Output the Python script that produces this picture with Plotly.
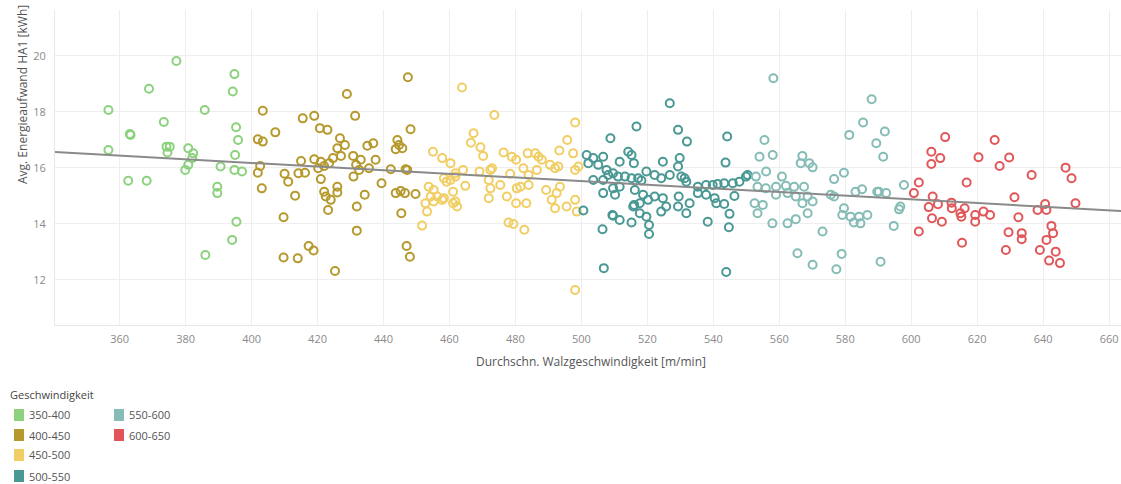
import plotly.graph_objects as go

# ---------------- data ----------------
categories = ["350-400", "400-450", "450-500", "500-550", "550-600", "600-650"]
colors = ["#8CD17D", "#B6992D", "#F1CE63", "#499894", "#86BCB6", "#E15759"]

x_350_400 = [377.2, 368.9, 394.8, 394.3, 356.6, 385.8, 373.4, 363.1, 363.3, 356.6, 395.3, 395.9,
             374.2, 375.2, 374.5, 380.8, 382.3, 382.0, 380.8, 379.9, 395.0, 390.6, 394.8, 397.1,
             362.6, 368.2, 389.6, 389.6, 395.4, 394.1, 386.0]
y_350_400 = [19.82, 18.83, 19.35, 18.73, 18.07, 18.07, 17.64, 17.21, 17.18, 16.64, 17.45, 17.00,
             16.76, 16.76, 16.55, 16.70, 16.52, 16.35, 16.11, 15.93, 16.46, 16.05, 15.93, 15.87,
             15.54, 15.54, 15.33, 15.10, 14.08, 13.43, 12.89]

x_400_450 = [403.4, 407.2, 401.9, 403.4, 402.6, 401.9, 403.1, 447.4, 428.9, 415.5, 419.0, 431.4,
             420.7, 423.0, 448.2, 426.8, 426.0, 428.3, 435.1, 436.9, 444.2, 443.7, 445.7, 444.7,
             424.7, 427.1, 430.8, 433.1, 437.6, 415.0, 419.0, 421.0, 422.0, 423.5, 420.2, 431.7,
             432.6, 435.6, 442.2, 446.7, 447.2, 410.0, 411.1, 414.2, 416.2, 421.0, 430.9, 439.4,
             413.2, 422.0, 422.5, 426.0, 426.0, 424.0, 423.2, 434.3, 443.7, 445.2, 446.5, 449.7,
             431.9, 445.4, 409.7, 431.9, 417.3, 418.8, 447.0, 448.0, 409.7, 414.0, 425.3]
y_400_450 = [18.04, 17.27, 17.02, 16.94, 16.07, 15.83, 15.27, 19.24, 18.64, 17.77, 17.86, 17.86,
             17.42, 17.36, 17.38, 17.06, 16.70, 16.82, 16.79, 16.88, 17.00, 16.67, 16.70, 16.82,
             16.35, 16.43, 16.43, 16.29, 16.29, 16.25, 16.31, 16.22, 16.07, 16.17, 15.99, 16.11,
             15.93, 15.99, 15.95, 15.95, 15.93, 15.79, 15.51, 15.81, 15.83, 15.60, 15.69, 15.45,
             15.01, 15.15, 14.98, 15.33, 15.12, 14.86, 14.50, 15.04, 15.10, 15.18, 15.10, 15.07,
             14.62, 14.38, 14.24, 13.76, 13.21, 13.05, 13.21, 12.83, 12.80, 12.77, 12.32]

x_450_500 = [463.8, 455.0, 457.8, 460.3, 464.1, 458.3, 460.3, 461.8, 464.8, 453.7, 455.2, 456.3,
             454.3, 452.7, 457.8, 461.1, 455.2, 461.1, 462.3, 453.2, 451.7, 473.6, 467.3, 466.5,
             469.4, 470.2, 476.4, 478.9, 480.2, 483.7, 486.0, 487.0, 488.0, 493.3, 495.7, 498.1,
             497.5, 490.5, 492.0, 493.0, 498.1, 499.1, 472.4, 472.9, 469.1, 461.8, 459.1, 478.4,
             482.4, 484.0, 486.5, 475.4, 471.9, 472.4, 458.3, 461.8, 471.9, 477.4, 480.4, 481.5,
             484.0, 480.2, 483.3, 489.3, 493.5, 492.5, 491.0, 492.0, 495.5, 498.1, 498.6, 477.9,
             479.4, 482.7, 498.1]
y_450_500 = [18.87, 16.58, 16.35, 16.17, 15.93, 15.63, 15.57, 15.69, 15.36, 15.33, 15.21, 14.98,
             14.98, 14.74, 14.86, 15.15, 14.80, 14.74, 14.62, 14.44, 13.94, 17.89, 17.24, 16.90,
             16.74, 16.43, 16.55, 16.40, 16.29, 16.52, 16.52, 16.40, 16.29, 16.62, 17.00, 17.62,
             16.52, 16.11, 15.99, 16.05, 15.93, 16.05, 15.93, 15.99, 15.87, 15.81, 15.51, 15.79,
             15.99, 15.75, 15.93, 15.39, 15.57, 15.27, 14.92, 14.80, 14.92, 14.98, 15.27, 15.33,
             15.39, 14.74, 14.74, 15.21, 15.33, 15.10, 14.86, 14.56, 14.62, 14.86, 14.44, 14.05,
             14.00, 13.79, 11.64]

x_500_550 = [516.7, 508.8, 501.6, 503.6, 506.6, 505.1, 502.1, 511.6, 514.2, 515.2, 515.9, 507.6,
             509.6, 511.1, 513.2, 503.6, 506.6, 515.2, 509.6, 511.6, 506.6, 516.0, 500.6, 509.4,
             511.6, 515.2, 506.4, 506.8, 526.8, 529.3, 532.0, 544.2, 524.7, 529.8, 529.3, 543.7,
             519.7, 522.2, 524.2, 526.8, 530.3, 531.3, 531.8, 517.2, 518.2, 535.3, 537.8, 539.8,
             541.3, 543.3, 545.9, 547.9, 549.9, 508.1, 510.2, 516.2, 518.7, 517.7, 515.7, 520.2,
             522.2, 524.7, 525.7, 524.2, 517.7, 519.7, 520.5, 509.6, 520.5, 529.5, 532.8, 531.8,
             529.3, 535.3, 537.8, 540.4, 540.9, 543.3, 546.4, 538.3, 544.9, 544.7, 543.9, 550.4]
y_500_550 = [17.48, 17.06, 16.46, 16.35, 16.40, 16.11, 16.17, 16.22, 16.58, 16.46, 16.17, 15.93,
             15.81, 15.69, 15.69, 15.57, 15.57, 15.63, 15.27, 15.33, 15.10, 14.68, 14.48, 14.32,
             14.14, 14.05, 13.81, 12.42, 18.31, 17.36, 16.94, 17.12, 16.22, 16.35, 16.05, 16.19,
             15.87, 15.75, 15.63, 15.75, 15.69, 15.63, 15.51, 15.63, 15.55, 15.33, 15.39, 15.39,
             15.43, 15.45, 15.45, 15.51, 15.69, 15.75, 15.04, 15.21, 15.04, 14.74, 14.62, 14.86,
             14.98, 14.92, 14.62, 14.44, 14.38, 14.26, 13.96, 14.29, 13.64, 14.98, 14.74, 14.38,
             14.62, 15.10, 15.04, 14.92, 14.74, 14.71, 15.00, 14.08, 14.36, 13.88, 12.28, 15.75]

x_550_600 = [558.2, 555.5, 558.0, 554.0, 556.0, 552.9, 560.8, 553.4, 555.9, 559.0, 562.0, 564.5,
             552.5, 555.0, 559.0, 562.5, 565.0, 553.4, 557.9, 562.5, 565.5, 588.0, 585.4, 581.2,
             592.0, 589.4, 591.5, 567.0, 566.5, 569.1, 570.1, 576.6, 579.6, 567.5, 568.6, 567.0,
             570.1, 568.6, 565.0, 575.6, 576.6, 573.1, 579.6, 579.1, 581.6, 582.6, 584.2, 584.6,
             586.7, 583.1, 585.1, 589.7, 590.2, 592.4, 596.7, 596.3, 594.7, 597.8, 570.1, 577.3,
             578.9, 590.7]
y_550_600 = [19.20, 17.00, 16.46, 16.40, 15.87, 15.69, 15.69, 15.33, 15.27, 15.33, 15.36, 15.33,
             14.74, 14.68, 15.04, 15.10, 14.98, 14.38, 14.02, 14.02, 12.95, 18.45, 17.62, 17.18,
             17.30, 16.88, 16.40, 16.43, 16.17, 16.17, 16.02, 15.60, 15.83, 15.33, 14.98, 14.74,
             14.80, 14.38, 14.17, 15.04, 14.98, 13.73, 14.56, 14.32, 14.26, 14.05, 14.26, 14.02,
             14.32, 15.15, 15.24, 15.15, 15.15, 15.10, 14.62, 14.52, 13.93, 15.39, 12.54, 12.38,
             12.93, 12.65]

x_600_650 = [610.3, 606.1, 608.8, 606.1, 620.4, 602.3, 600.8, 616.8, 606.5, 605.3, 608.1, 606.3,
             609.3, 612.2, 612.3, 614.9, 615.2, 616.2, 619.4, 619.4, 602.3, 615.4, 625.3, 626.8,
             629.7, 636.5, 646.8, 648.6, 631.3, 649.8, 640.6, 638.3, 641.0, 621.9, 623.9, 632.5,
             629.5, 633.5, 633.5, 628.7, 642.5, 643.0, 641.0, 639.0, 643.8, 641.8, 645.1]
y_600_650 = [17.10, 16.58, 16.35, 16.14, 16.38, 15.48, 15.10, 15.48, 14.98, 14.60, 14.70, 14.20,
             14.08, 14.76, 14.56, 14.38, 14.26, 14.56, 14.32, 14.08, 13.73, 13.33, 17.00, 16.07,
             16.37, 15.75, 16.01, 15.63, 14.95, 14.74, 14.71, 14.50, 14.50, 14.44, 14.32, 14.24,
             13.70, 13.67, 13.45, 13.07, 13.93, 13.67, 13.43, 13.07, 13.01, 12.69, 12.60]

trend_x = [340.0, 664.0]
trend_y = [16.57, 14.46]

x_ticks = [360, 380, 400, 420, 440, 460, 480, 500, 520, 540, 560, 580, 600, 620, 640, 660]
y_ticks = [12, 14, 16, 18, 20]

x_title = "Durchschn. Walzgeschwindigkeit [m/min]"
y_title = "Avg. Energieaufwand HA1 [kWh]"
legend_title = "Geschwindigkeit"

series_x = [x_350_400, x_400_450, x_450_500, x_500_550, x_550_600, x_600_650]
series_y = [y_350_400, y_400_450, y_450_500, y_500_550, y_550_600, y_600_650]

# ---------------- layout constants (pixels) ----------------
W, H = 1121, 484
PL, PR, PT, PB = 55, 1121, 10, 325
FONT = "Open Sans"


def fx(px):
    return (px - PL) / (PR - PL)


def fy(py):
    return (PB - py) / (PB - PT)


fig = go.Figure()

for name, xs, ys, col in zip(categories, series_x, series_y, colors):
    fig.add_trace(go.Scatter(
        x=xs, y=ys, mode="markers", name=name, showlegend=False,
        marker=dict(symbol="circle-open", size=8, color=col, line=dict(width=2, color=col)),
    ))

fig.add_trace(go.Scatter(
    x=trend_x, y=trend_y, mode="lines", showlegend=False,
    line=dict(color="#8a8a8a", width=2),
))

# ---------------- manual legend ----------------
shapes = []
annotations = []
annotations.append(dict(
    text=legend_title, x=fx(8), y=fy(394), xref="paper", yref="paper",
    xanchor="left", yanchor="middle", showarrow=False,
    font=dict(family=FONT, size=11, color="#444"),
))
row_y = [415, 435, 455, 476]
positions = [(0, 0), (0, 1), (0, 2), (0, 3), (1, 0), (1, 1)]
col_x = [14, 114]
for (c, r), name, col in zip(positions, categories, colors):
    sx = col_x[c]
    cy = row_y[r]
    shapes.append(dict(
        type="rect", xref="paper", yref="paper",
        x0=fx(sx), x1=fx(sx + 10), y0=fy(cy + 6), y1=fy(cy - 6),
        fillcolor=col, line=dict(width=0),
    ))
    annotations.append(dict(
        text=name, x=fx(sx + 13), y=fy(cy), xref="paper", yref="paper",
        xanchor="left", yanchor="middle", showarrow=False,
        font=dict(family=FONT, size=11, color="#555"),
    ))

# axis titles
annotations.append(dict(
    text=x_title, x=fx(591), y=fy(361), xref="paper", yref="paper",
    xanchor="center", yanchor="middle", showarrow=False,
    font=dict(family=FONT, size=12, color="#555"),
))
annotations.append(dict(
    text=y_title, x=fx(22), y=fy(95), xref="paper", yref="paper",
    xanchor="center", yanchor="middle", showarrow=False, textangle=-90,
    font=dict(family=FONT, size=12, color="#555"),
))

fig.update_layout(
    width=W, height=H,
    margin=dict(l=PL, r=W - PR, t=PT, b=H - PB),
    paper_bgcolor="white", plot_bgcolor="white",
    font=dict(family=FONT),
    shapes=shapes, annotations=annotations,
    showlegend=False,
    xaxis=dict(
        range=[340.4, 663.6], tickvals=x_ticks, ticks="",
        showgrid=True, gridcolor="#eeeeee", gridwidth=1, zeroline=False,
        showline=True, linecolor="#e8e8e8", linewidth=1,
        tickfont=dict(family=FONT, size=11, color="#8a8a8a"),
        ticklabelstandoff=4,
    ),
    yaxis=dict(
        range=[10.39, 21.64], tickvals=y_ticks, ticks="",
        showgrid=True, gridcolor="#eeeeee", gridwidth=1, zeroline=False,
        showline=True, linecolor="#e8e8e8", linewidth=1,
        tickfont=dict(family=FONT, size=11, color="#8a8a8a"),
        ticklabelstandoff=6,
    ),
)

fig.write_html(
    "out.html",
    config={"displayModeBar": False},
    post_script="document.body.style.margin='0';document.body.style.overflow='hidden';",
)
